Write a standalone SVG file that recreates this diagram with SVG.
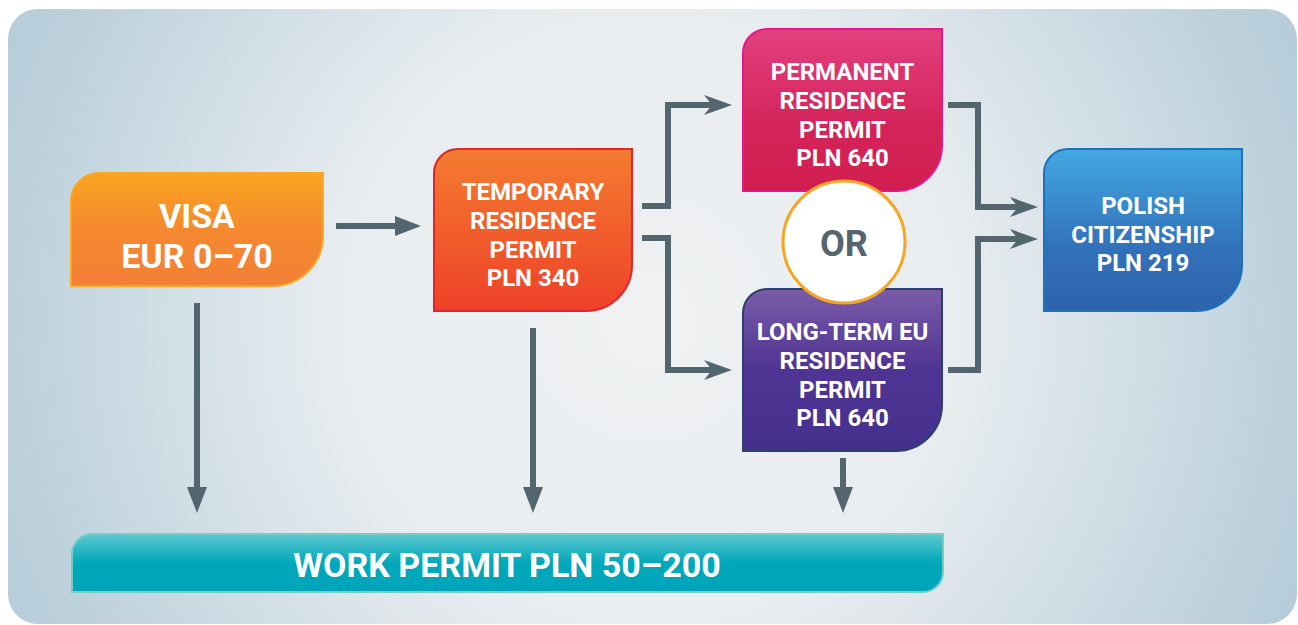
<svg xmlns="http://www.w3.org/2000/svg" width="1298" height="625" viewBox="0 0 1298 625">
  <defs>
    <radialGradient id="bg" gradientUnits="userSpaceOnUse" cx="650" cy="320" r="760">
      <stop offset="0" stop-color="#eff1f2"/>
      <stop offset="0.4" stop-color="#e9edf0"/>
      <stop offset="0.85" stop-color="#bcd1dc"/>
      <stop offset="1" stop-color="#b1c9d6"/>
    </radialGradient>
    <linearGradient id="gVisa" x1="0" y1="0" x2="0" y2="1">
      <stop offset="0" stop-color="#f9a41f"/>
      <stop offset="0.5" stop-color="#f5892f"/>
      <stop offset="1" stop-color="#f37f36"/>
    </linearGradient>
    <linearGradient id="gTemp" x1="0" y1="0" x2="0" y2="1">
      <stop offset="0" stop-color="#f47c30"/>
      <stop offset="1" stop-color="#ee4128"/>
    </linearGradient>
    <linearGradient id="gPerm" x1="0" y1="0" x2="0" y2="1">
      <stop offset="0" stop-color="#e2407f"/>
      <stop offset="0.6" stop-color="#d4235a"/>
      <stop offset="1" stop-color="#d01f4e"/>
    </linearGradient>
    <linearGradient id="gLT" x1="0" y1="0" x2="0" y2="1">
      <stop offset="0" stop-color="#7a5ca8"/>
      <stop offset="0.5" stop-color="#4f3493"/>
      <stop offset="1" stop-color="#45308d"/>
    </linearGradient>
    <linearGradient id="gPol" x1="0" y1="0" x2="0" y2="1">
      <stop offset="0" stop-color="#43a8e1"/>
      <stop offset="0.6" stop-color="#3272ba"/>
      <stop offset="1" stop-color="#2f63ad"/>
    </linearGradient>
    <linearGradient id="gWork" x1="0" y1="0" x2="0" y2="1">
      <stop offset="0" stop-color="#5dc8d0"/>
      <stop offset="0.5" stop-color="#00a7ba"/>
      <stop offset="1" stop-color="#00a5b9"/>
    </linearGradient>
    <marker id="tri" viewBox="0 0 26 20" markerWidth="26" markerHeight="20" markerUnits="userSpaceOnUse" refX="0" refY="10" orient="auto">
      <path d="M0,0 L26,10 L0,20 Z" fill="#536670"/>
    </marker>
    <marker id="chev" viewBox="0 0 28 20" markerWidth="28" markerHeight="20" markerUnits="userSpaceOnUse" refX="8" refY="10" orient="auto">
      <path d="M0,0 L28,10 L0,20 L8,10 Z" fill="#536670"/>
    </marker>
    <style>
      .lbl { font-family: Roboto, "Liberation Sans", Arial, sans-serif; font-weight: 700; fill: #ffffff; text-anchor: middle; }
      .s24 { font-size: 24px; }
      .s34 { font-size: 34px; }
      .node { stroke-width: 2; }
      .conn { fill: none; stroke: #536670; stroke-width: 6; stroke-linejoin: miter; stroke-linecap: butt; }
    </style>
  </defs>

  <rect x="8" y="9" width="1289" height="615" rx="30" ry="30" fill="url(#bg)"/>

  <g id="connectors">
    <path class="conn" d="M336,226 H395" marker-end="url(#tri)"/>
    <path class="conn" d="M197,303 V487" marker-end="url(#tri)"/>
    <path class="conn" d="M533,328 V487" marker-end="url(#tri)"/>
    <path class="conn" d="M843,458 V487" marker-end="url(#tri)"/>
    <path class="conn" d="M642,206 H668 V105 H712" marker-end="url(#chev)"/>
    <path class="conn" d="M642,238 H668 V370 H712" marker-end="url(#chev)"/>
    <path class="conn" d="M948,105 H978 V207 H1018" marker-end="url(#chev)"/>
    <path class="conn" d="M948,370 H978 V239 H1018" marker-end="url(#chev)"/>
  </g>

  <g id="visa">
    <path class="node" d="M71,201 A28,28 0 0 1 99,173 H323 V236 A50,50 0 0 1 273,286 H71 Z" fill="url(#gVisa)" stroke="#f8a824"/>
    <text class="lbl s34" x="197" y="228">VISA</text>
    <text class="lbl s34" x="197" y="268">EUR 0–70</text>
  </g>

  <g id="temporary">
    <path class="node" d="M434,173 A24,24 0 0 1 458,149 H632 V265 A46,46 0 0 1 586,311 H434 Z" fill="url(#gTemp)" stroke="#e0262c"/>
    <text class="lbl s24" x="533" y="200">TEMPORARY</text>
    <text class="lbl s24" x="533" y="228.5">RESIDENCE</text>
    <text class="lbl s24" x="533" y="257.5">PERMIT</text>
    <text class="lbl s24" x="533" y="286">PLN 340</text>
  </g>

  <g id="permanent">
    <path class="node" d="M743,53 A24,24 0 0 1 767,29 H942 V145 A46,46 0 0 1 896,191 H743 Z" fill="url(#gPerm)" stroke="#e9168a"/>
    <text class="lbl s24" x="842.5" y="79.5">PERMANENT</text>
    <text class="lbl s24" x="842.5" y="108.5">RESIDENCE</text>
    <text class="lbl s24" x="842.5" y="137.5">PERMIT</text>
    <text class="lbl s24" x="842.5" y="166">PLN 640</text>
  </g>

  <g id="longterm">
    <path class="node" d="M743,313 A24,24 0 0 1 767,289 H942 V405 A46,46 0 0 1 896,451 H743 Z" fill="url(#gLT)" stroke="#2c3f6d"/>
    <text class="lbl s24" x="842.5" y="339.5">LONG-TERM EU</text>
    <text class="lbl s24" x="842.5" y="368.5">RESIDENCE</text>
    <text class="lbl s24" x="842.5" y="397.5">PERMIT</text>
    <text class="lbl s24" x="842.5" y="426">PLN 640</text>
  </g>

  <g id="or">
    <circle cx="844" cy="242" r="61" fill="#ffffff" stroke="#f6a623" stroke-width="3"/>
    <text x="844" y="256" font-family="Roboto, 'Liberation Sans', Arial, sans-serif" font-weight="700" font-size="36" fill="#56656f" text-anchor="middle">OR</text>
  </g>

  <g id="citizenship">
    <path class="node" d="M1044,173 A24,24 0 0 1 1068,149 H1242 V265 A46,46 0 0 1 1196,311 H1044 Z" fill="url(#gPol)" stroke="#1b73bd"/>
    <text class="lbl s24" x="1143" y="214">POLISH</text>
    <text class="lbl s24" x="1143" y="242.5">CITIZENSHIP</text>
    <text class="lbl s24" x="1143" y="271">PLN 219</text>
  </g>

  <g id="workpermit">
    <path class="node" d="M72,554 A20,20 0 0 1 92,534 H943 V572 A20,20 0 0 1 923,592 H72 Z" fill="url(#gWork)" stroke="#72cfc7"/>
    <text class="lbl s34" x="507" y="577">WORK PERMIT PLN 50–200</text>
  </g>
</svg>
